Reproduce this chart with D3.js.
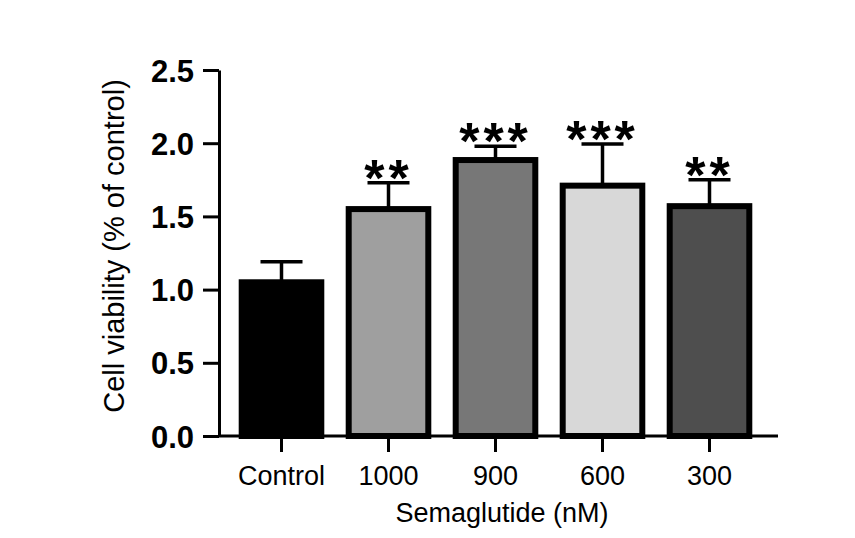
<!DOCTYPE html>
<html>
<head>
<meta charset="utf-8">
<script src="https://cdn.jsdelivr.net/npm/d3@7"></script>
<style>
  body { margin: 0; background: #fff; }
  text { font-family: 'Liberation Sans', Arial, sans-serif; fill: #000; }
</style>
</head>
<body>
<script>
'use strict';

// chart data
const groups = ['Control', '1000', '900', '600', '300'];
const viability = [1.05, 1.55, 1.885, 1.71, 1.57];
const sem = [0.14, 0.18, 0.095, 0.285, 0.18];
const stars = ['', '**', '***', '***', '**'];
const fills = ['#000000', '#9f9f9f', '#777777', '#d8d8d8', '#4e4e4e'];
const yTicks = [0, 0.5, 1.0, 1.5, 2.0, 2.5];

(function() {
  const svg = d3
    .select('body')
    .append('svg')
    .attr('width', 855)
    .attr('height', 538);

  // scales
  const yScale = d3.scaleLinear().domain([0, 2.5]).range([436, 70]);
  const xScale = d3
    .scaleBand()
    .domain(groups)
    .range([228, 763])
    .paddingInner(0.2)
    .paddingOuter(0.1);

  const rows = groups.map((g, i) => ({
    group: g,
    value: viability[i],
    err: sem[i],
    star: stars[i],
    fill: fills[i]
  }));

  // bars, inset so the thick border stays inside the band
  svg
    .selectAll('.bar')
    .data(rows)
    .enter()
    .append('rect')
    .attr('class', 'bar')
    .attr('x', d => xScale(d.group) + 3)
    .attr('width', xScale.bandwidth() - 6)
    .attr('y', d => yScale(d.value))
    .attr('height', d => yScale(0) - yScale(d.value))
    .attr('fill', d => d.fill)
    .attr('stroke', '#000')
    .attr('stroke-width', 6);

  // error bars (upper only)
  const cx = d => xScale(d.group) + xScale.bandwidth() / 2;
  const errG = svg.append('g').attr('stroke', '#000').attr('stroke-width', 3.5);
  errG
    .selectAll('.stem')
    .data(rows)
    .enter()
    .append('line')
    .attr('x1', cx)
    .attr('x2', cx)
    .attr('y1', d => yScale(d.value))
    .attr('y2', d => yScale(d.value + d.err));
  errG
    .selectAll('.cap')
    .data(rows)
    .enter()
    .append('line')
    .attr('x1', d => cx(d) - 21)
    .attr('x2', d => cx(d) + 21)
    .attr('y1', d => yScale(d.value + d.err))
    .attr('y2', d => yScale(d.value + d.err));

  // significance stars
  svg
    .selectAll('.star')
    .data(rows.filter(d => d.star))
    .enter()
    .append('text')
    .attr('class', 'star')
    .attr('x', cx)
    .attr('y', d => yScale(d.value + d.err) + 13)
    .attr('text-anchor', 'middle')
    .style('font-size', '52px')
    .style('font-weight', 'bold')
    .style('letter-spacing', '4px')
    .text(d => d.star);

  // y axis
  const yAxis = d3
    .axisLeft(yScale)
    .tickValues(yTicks)
    .tickSize(16)
    .tickSizeOuter(0)
    .tickPadding(9)
    .tickFormat(d3.format('.1f'));
  const yG = svg
    .append('g')
    .attr('transform', 'translate(219, 0)')
    .call(yAxis);
  yG.select('.domain').attr('stroke-width', 3);
  yG.selectAll('.tick line').attr('stroke-width', 3);
  yG.selectAll('.tick text')
    .attr('dy', '0.36em')
    .style('font-size', '31px')
    .style('font-weight', 'bold')
    .style('font-family', "'Liberation Sans', Arial, sans-serif");

  // x axis
  const xAxis = d3.axisBottom(xScale).tickSize(16).tickSizeOuter(0);
  const xG = svg
    .append('g')
    .attr('transform', 'translate(0, 436)')
    .call(xAxis);
  xG.select('.domain').remove();
  xG.append('line')
    .attr('x1', 219)
    .attr('x2', 778)
    .attr('stroke', '#000')
    .attr('stroke-width', 3);
  xG.selectAll('.tick line').attr('stroke-width', 3);
  xG.selectAll('.tick text')
    .attr('y', 49)
    .attr('dy', 0)
    .style('font-size', '27px')
    .style('font-family', "'Liberation Sans', Arial, sans-serif");

  // axis titles
  svg
    .append('text')
    .attr('x', 502)
    .attr('y', 522)
    .attr('text-anchor', 'middle')
    .style('font-size', '27px')
    .text('Semaglutide (nM)');

  svg
    .append('text')
    .attr('transform', 'translate(124, 246)rotate(-90)')
    .attr('text-anchor', 'middle')
    .style('font-size', '29px')
    .text('Cell viability (% of control)');
})();
</script>
</body>
</html>
